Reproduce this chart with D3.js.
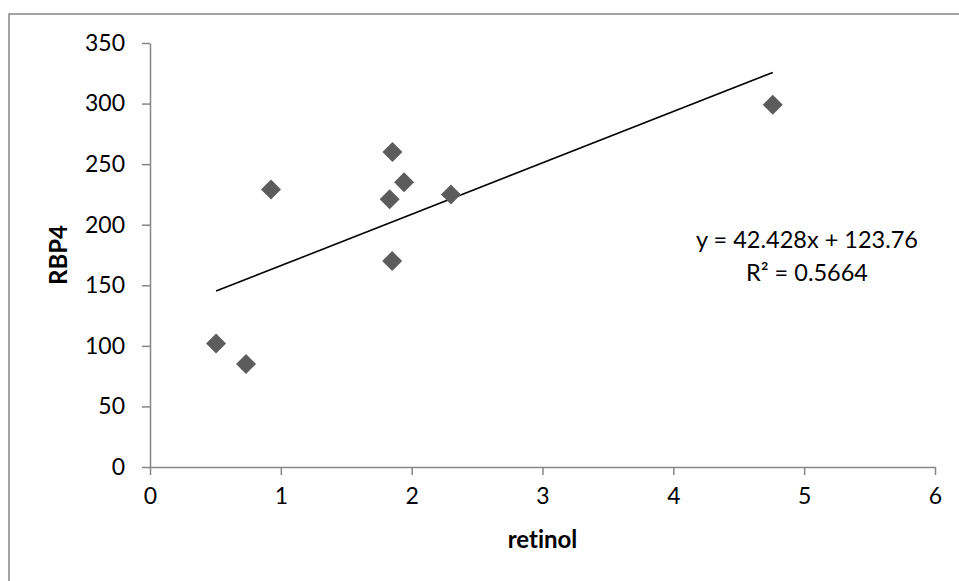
<!DOCTYPE html>
<html>
<head>
<meta charset="utf-8">
<script src="https://cdn.jsdelivr.net/npm/d3@7"></script>
<style>
  body { margin: 0; background: #fff; }
  text { font-family: Lato, "Open Sans", sans-serif; font-variant-ligatures: none; }
</style>
</head>
<body>
<script>
// Data
var retinol = [0.505, 0.734, 0.925, 1.853, 1.942, 1.832, 2.30, 1.851, 4.76];
var rbp4    = [102, 85, 229, 260, 235, 221, 225, 170, 299];
var xTicks = [0, 1, 2, 3, 4, 5, 6];
var yTicks = [0, 50, 100, 150, 200, 250, 300, 350];
var trend = [42.428, 123.76]; // slope, intercept
var rSquared = 0.5664;

var w = 959, h = 581;
var mLeft = 150, mRight = 935, mTop = 43, mBottom = 467;

var svg = d3.select("body").append("svg")
    .attr("width", w)
    .attr("height", h);

// outer chart border (runs off the right and bottom edges)
svg.append("rect")
    .attr("x", 9).attr("y", 14)
    .attr("width", 1000).attr("height", 1000)
    .attr("fill", "none")
    .attr("stroke", "#868686")
    .attr("stroke-width", 1.5);

var xScale = d3.scaleLinear().domain([0, 6]).range([mLeft, mRight]);
var yScale = d3.scaleLinear().domain([0, 350]).range([mBottom, mTop]);

var xAxis = d3.axisBottom(xScale).tickValues(xTicks).tickFormat(d3.format("d"))
    .tickSizeInner(8).tickSizeOuter(0).tickPadding(13);
var yAxis = d3.axisLeft(yScale).tickValues(yTicks).tickFormat(d3.format("d"))
    .tickSizeInner(8).tickSizeOuter(0).tickPadding(17);

var gx = svg.append("g")
    .attr("transform", "translate(0," + mBottom + ")")
    .call(xAxis);
var gy = svg.append("g")
    .attr("transform", "translate(" + mLeft + ",0)")
    .call(yAxis);

[gx, gy].forEach(function(g) {
    g.selectAll("path, line").attr("stroke", "#868686").attr("stroke-width", 1.5);
    g.selectAll("text").attr("fill", "#000").style("font-size", "23px");
});

// trend line over the data range
var xr = d3.extent(retinol);
svg.append("line")
    .attr("x1", xScale(xr[0]))
    .attr("y1", yScale(trend[0] * xr[0] + trend[1]))
    .attr("x2", xScale(xr[1]))
    .attr("y2", yScale(trend[0] * xr[1] + trend[1]))
    .attr("stroke", "#000")
    .attr("stroke-width", 1.6);

// diamond markers
var diamond = d3.symbol().type(d3.symbolSquare).size(200);
svg.selectAll("path.pt")
    .data(retinol)
    .enter()
    .append("path")
    .attr("class", "pt")
    .attr("d", diamond)
    .attr("transform", function(d, i) {
        return "translate(" + xScale(d) + "," + yScale(rbp4[i]) + ") rotate(45)";
    })
    .attr("fill", "#5c5c5c");

// equation label
svg.append("text")
    .attr("x", 807).attr("y", 248)
    .attr("text-anchor", "middle")
    .style("font-size", "23.5px")
    .text("y = " + trend[0] + "x + " + trend[1]);
svg.append("text")
    .attr("x", 807).attr("y", 281)
    .attr("text-anchor", "middle")
    .style("font-size", "23.5px")
    .text("R² = " + rSquared);

// axis titles
svg.append("text")
    .attr("x", (mLeft + mRight) / 2).attr("y", 548)
    .attr("text-anchor", "middle")
    .style("font-size", "24px")
    .style("font-weight", "bold")
    .text("retinol");

svg.append("text")
    .attr("transform", "translate(67," + (mTop + mBottom) / 2 + ") rotate(-90)")
    .attr("text-anchor", "middle")
    .style("font-size", "24px")
    .style("font-weight", "bold")
    .text("RBP4");
</script>
</body>
</html>
